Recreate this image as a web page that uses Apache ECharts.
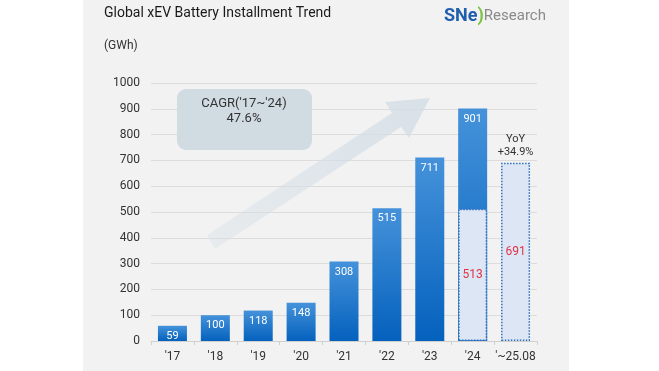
<!DOCTYPE html>
<html><head><meta charset="utf-8">
<script src="https://cdn.jsdelivr.net/npm/echarts@6/dist/echarts.min.js"></script>
<style>html,body{margin:0;padding:0;background:#fff}#c{width:659px;height:371px}</style>
</head><body><div id="c"></div>
<script>
const categories = ["'17","'18","'19","'20","'21","'22","'23","'24","'~25.08"];
const totalValues = [59,100,118,148,308,515,711,901,null];
const partialValues = [null,null,null,null,null,null,null,513,691];
const yoyValues = [null,null,null,null,null,null,null,null,691];
const yTicks = {min:0,max:1000,interval:100};

const chart = echarts.init(document.getElementById('c'));
const font = 'Roboto, "Liberation Sans", Arial, sans-serif';
chart.setOption({
  animation:false,
  backgroundColor:'#fff',
  graphic:[
    {type:'rect',shape:{x:83,y:0,width:486,height:371},style:{fill:'#f2f2f2'},z:-10},
    {type:'polygon',shape:{points:[[215,249],[401,127],[409,138],[430,98],[385,102],[392,113],[207,235]]},
      style:{fill:new echarts.graphic.LinearGradient(0,1,1,0,[{offset:0,color:'rgba(212,222,230,0.35)'},{offset:1,color:'rgba(212,222,230,0.85)'}])},z:5},
    {type:'rect',shape:{x:177,y:89,width:135,height:61,r:9},style:{fill:'#d0dbe2'},z:6},
    {type:'text',x:244,y:104,style:{text:"CAGR('17~'24)",font:'13px '+font,fill:'#333',textAlign:'center',textVerticalAlign:'middle'},z:7},
    {type:'text',x:244,y:119,style:{text:'47.6%',font:'13px '+font,fill:'#333',textAlign:'center',textVerticalAlign:'middle'},z:7},
    {type:'text',x:104,y:13,style:{text:'Global xEV Battery Installment Trend',font:'14px '+font,fill:'#1a1a1a',textVerticalAlign:'middle'}},
    {type:'text',x:104,y:46,style:{text:'(GWh)',font:'12px '+font,fill:'#333',textVerticalAlign:'middle'}},
    {type:'text',x:444,y:16,style:{rich:{a:{fontSize:18,fontWeight:'bold',fill:'#1f5fae',fontFamily:font},b:{fontSize:18,fontWeight:'bold',fill:'#7cc242',fontFamily:font},c:{fontSize:15,fill:'#8a8a8a',fontFamily:font}},text:'{a|SNe}{b|)}{c|Research}',textVerticalAlign:'middle'}}
  ],
  grid:{left:151,right:122,top:83,bottom:30},
  xAxis:{type:'category',data:categories,
    axisLine:{lineStyle:{color:'#d0d0d0'}},
    axisTick:{show:true,length:4,lineStyle:{color:'#d0d0d0'}},
    axisLabel:{color:'#333',fontSize:12,fontFamily:font,margin:10,interval:0}},
  yAxis:{type:'value',min:yTicks.min,max:yTicks.max,interval:yTicks.interval,
    axisLabel:{color:'#333',fontSize:12,fontFamily:font,margin:11,formatter:v=>String(v)},
    splitLine:{lineStyle:{color:'#dcdcdc'}},axisLine:{show:false},axisTick:{show:false}},
  series:[
    {type:'bar',data:totalValues,barWidth:29,z:2,
      itemStyle:{color:new echarts.graphic.LinearGradient(0,0,0,1,[{offset:0,color:'#4592da'},{offset:1,color:'#0461bd'}])},
      label:{show:true,position:'insideTop',distance:5,color:'#fff',fontSize:11,fontFamily:font}},
    {type:'bar',data:partialValues,barWidth:29,barGap:'-100%',z:3,
      itemStyle:{color:'#dde6f4',borderColor:'#2c6fc2',borderWidth:1.5,borderType:'dotted'},
      label:{show:true,position:'inside',color:'#e03345',fontSize:12,fontFamily:font}},
    {type:'bar',data:yoyValues,barWidth:29,barGap:'-100%',z:1,
      itemStyle:{color:'rgba(0,0,0,0)'},
      label:{show:true,position:'top',distance:4,color:'#333',fontSize:11,fontFamily:font,lineHeight:13,formatter:'YoY\n+34.9%'}}
  ]
});
</script></body></html>
